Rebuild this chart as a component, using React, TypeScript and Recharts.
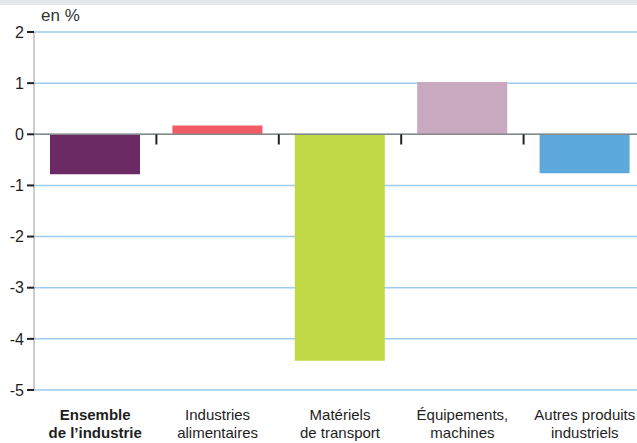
import { BarChart, Bar, XAxis, YAxis, CartesianGrid, Cell, ReferenceLine } from 'recharts'

const categories = [
  ['Ensemble', 'de l’industrie'],
  ['Industries', 'alimentaires'],
  ['Matériels', 'de transport'],
  ['Équipements,', 'machines'],
  ['Autres produits', 'industriels'],
]
const values = [-0.78, 0.17, -4.43, 1.02, -0.76]
const colors = ['#6b2a63', '#f15b65', '#c0d846', '#c9a9c0', '#5da9dc']
const yTicks = [-5, -4, -3, -2, -1, 0, 1, 2]

const FONT = '"Liberation Sans", Arial, Helvetica, sans-serif'

const data = categories.map((c, i) => ({ key: c.join(' '), idx: i, value: values[i] }))
// separators between categories, on a numeric axis spanning the bands
const boundaries = categories.slice(1).map((_, i) => i + 0.5)

function CategoryTick({ x, y, payload, index }: any) {
  const lines = categories[index] ?? [payload.value]
  return (
    <text
      x={x}
      y={y + 30}
      textAnchor="middle"
      fontFamily={FONT}
      fontSize={15}
      fill="#1e1e1e"
      fontWeight={index === 0 ? 'bold' : 'normal'}
    >
      <tspan x={x}>{lines[0]}</tspan>
      <tspan x={x} dy={18}>{lines[1]}</tspan>
    </text>
  )
}

export default function App() {
  return (
    <div
      style={{
        position: 'absolute',
        left: 0,
        top: 0,
        width: 637,
        height: 443,
        overflow: 'hidden',
        background: '#fff',
      }}
    >
      <div style={{ position: 'absolute', left: 0, top: 0, width: 637, height: 5, background: '#e4e8eb' }} />
      <div
        style={{
          position: 'absolute',
          left: 41,
          top: 6,
          fontFamily: FONT,
          fontSize: 17,
          color: '#333',
          lineHeight: '20px',
        }}
      >
        en %
      </div>
      <BarChart
        width={646}
        height={443}
        data={data}
        margin={{ top: 32, right: 0, bottom: 0, left: 0 }}
        style={{ position: 'absolute', left: 0, top: 0 }}
      >
        <CartesianGrid vertical={false} stroke="#9ecdef" strokeWidth={1.5} />
        <XAxis
          xAxisId="cat"
          dataKey="key"
          axisLine={false}
          tickLine={false}
          tickSize={0}
          tickMargin={0}
          interval={0}
          tick={<CategoryTick />}
          height={53}
        />
        <XAxis
          xAxisId="num"
          dataKey="idx"
          type="number"
          domain={[-0.5, 4.5]}
          allowDataOverflow
          hide
        />
        <YAxis
          domain={[-5, 2]}
          ticks={yTicks}
          width={34}
          axisLine={{ stroke: '#999', strokeWidth: 1 }}
          tickLine={{ stroke: '#222', strokeWidth: 2 }}
          tickSize={7}
          tickMargin={3}
          tick={{ fontFamily: FONT, fontSize: 16, fill: '#1e1e1e' }}
        />
        <Bar xAxisId="cat" dataKey="value" barSize={90} isAnimationActive={false}>
          {data.map((d, i) => (
            <Cell key={d.key} fill={colors[i]} />
          ))}
        </Bar>
        <ReferenceLine xAxisId="cat" y={0} stroke="#888" strokeWidth={1.5} />
        {boundaries.map((b) => (
          <ReferenceLine
            key={b}
            xAxisId="num"
            segment={[
              { x: b, y: 0 },
              { x: b, y: -0.2 },
            ]}
            stroke="#222"
            strokeWidth={2}
          />
        ))}
      </BarChart>
    </div>
  )
}
